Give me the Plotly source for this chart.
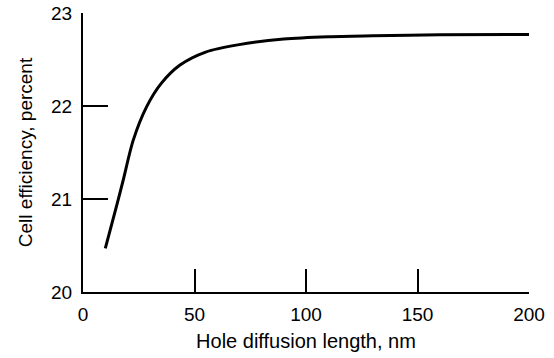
import plotly.graph_objects as go

diffusion_length_nm = [10, 15, 18, 22.5, 28.5, 35, 43.5, 55, 70, 90, 110, 130, 160, 200]
cell_efficiency_pct = [20.47, 20.92, 21.20, 21.63, 21.99, 22.24, 22.44, 22.58, 22.66, 22.72, 22.745, 22.755, 22.765, 22.77]

x_ticks = [0, 50, 100, 150, 200]
y_ticks = [20, 21, 22, 23]

font_family = "Liberation Sans, Arial, sans-serif"

fig = go.Figure()
fig.add_trace(go.Scatter(
    x=diffusion_length_nm, y=cell_efficiency_pct, mode="lines",
    line=dict(color="black", width=3, shape="spline", smoothing=0.8),
    showlegend=False,
))

fig.update_layout(
    width=554, height=358,
    margin=dict(l=83, r=25, t=13, b=66),
    paper_bgcolor="white", plot_bgcolor="white",
    font=dict(family=font_family, color="black", size=19),
    xaxis=dict(
        range=[0, 200], tickvals=x_ticks, ticks="inside", ticklen=23, tickwidth=2,
        tickcolor="black", showline=True, linecolor="black", linewidth=2,
        showgrid=False, zeroline=False, tickfont=dict(size=19), automargin=False,
        ticklabelstandoff=4,
        title=dict(text="Hole diffusion length, nm", font=dict(size=20), standoff=10),
    ),
    yaxis=dict(
        range=[20, 23], tickvals=y_ticks, ticks="inside", ticklen=25, tickwidth=2,
        tickcolor="black", showline=True, linecolor="black", linewidth=2,
        showgrid=False, zeroline=False, tickfont=dict(size=19), automargin=False,
        ticklabelstandoff=5,
        title=dict(text="Cell efficiency, percent", font=dict(size=19), standoff=13),
    ),
)

fig.write_html("out.html", config={"displayModeBar": False},
               post_script="document.body.style.margin='0';")
